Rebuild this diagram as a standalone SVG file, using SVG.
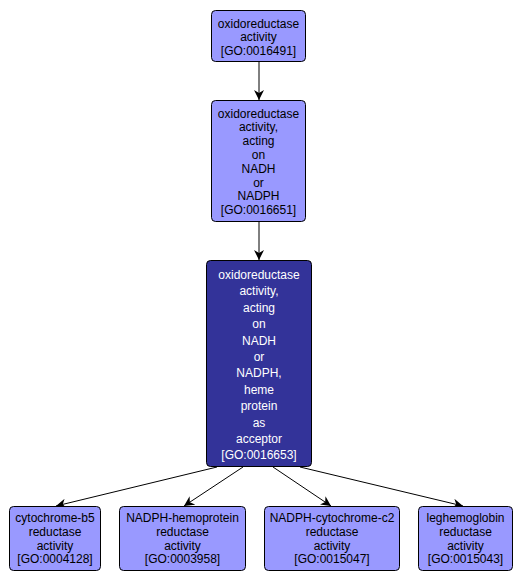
<svg xmlns="http://www.w3.org/2000/svg" width="522" height="583" viewBox="0 0 522 583">
<style>
.n rect{fill:#9999ff;stroke:#000;stroke-width:1}
.d rect{fill:#333399;stroke:#000;stroke-width:1}
text{font-family:"Liberation Sans",Arial,sans-serif;font-size:12px;text-anchor:middle;fill:#000}
.d text{fill:#fff}
.e line{stroke:#000;stroke-width:1;marker-end:url(#a)}
</style>
<defs>
<marker id="a" viewBox="0 0 10 10" refX="10" refY="5" markerWidth="10" markerHeight="10" markerUnits="userSpaceOnUse" orient="auto">
<path d="M0,0 L10,5 L0,10 L3,5 Z" fill="#000"/>
</marker>
</defs>
<rect width="522" height="583" fill="#fff"/>
<g class="e">
<line x1="259" y1="61" x2="259" y2="100"/>
<line x1="259" y1="222" x2="259" y2="260"/>
<line x1="217" y1="467" x2="56" y2="506"/>
<line x1="243" y1="467" x2="184" y2="506"/>
<line x1="273" y1="467" x2="331" y2="506"/>
<line x1="300" y1="467" x2="463" y2="506"/>
</g>
<g id="GO0016491" class="n">
<rect x="211.5" y="10.5" width="94" height="51" rx="4"/>
<text x="258.5" y="27.5">oxidoreductase</text>
<text x="258.5" y="41">activity</text>
<text x="258.5" y="54.5">[GO:0016491]</text>
</g>
<g id="GO0016651" class="n">
<rect x="211.5" y="100.5" width="94" height="121" rx="4"/>
<text x="258.5" y="117.5">oxidoreductase</text>
<text x="258.5" y="131.3">activity,</text>
<text x="258.5" y="145.1">acting</text>
<text x="258.5" y="158.9">on</text>
<text x="258.5" y="172.7">NADH</text>
<text x="258.5" y="186.5">or</text>
<text x="258.5" y="200.3">NADPH</text>
<text x="258.5" y="214.1">[GO:0016651]</text>
</g>
<g id="GO0016653" class="d">
<rect x="206.5" y="260.5" width="105" height="206" rx="4"/>
<text x="259" y="279">oxidoreductase</text>
<text x="259" y="295.4">activity,</text>
<text x="259" y="311.8">acting</text>
<text x="259" y="328.2">on</text>
<text x="259" y="344.6">NADH</text>
<text x="259" y="361">or</text>
<text x="259" y="377.4">NADPH,</text>
<text x="259" y="393.8">heme</text>
<text x="259" y="410.2">protein</text>
<text x="259" y="426.6">as</text>
<text x="259" y="443">acceptor</text>
<text x="259" y="459.4">[GO:0016653]</text>
</g>
<g id="GO0004128" class="n">
<rect x="9.5" y="506.5" width="91" height="64" rx="4"/>
<text x="55" y="522">cytochrome-b5</text>
<text x="55" y="535.8">reductase</text>
<text x="55" y="549.6">activity</text>
<text x="55" y="563.4">[GO:0004128]</text>
</g>
<g id="GO0003958" class="n">
<rect x="119.5" y="506.5" width="126" height="64" rx="4"/>
<text x="182.5" y="522">NADPH-hemoprotein</text>
<text x="182.5" y="535.8">reductase</text>
<text x="182.5" y="549.6">activity</text>
<text x="182.5" y="563.4">[GO:0003958]</text>
</g>
<g id="GO0015047" class="n">
<rect x="264.5" y="506.5" width="135" height="64" rx="4"/>
<text x="332" y="522">NADPH-cytochrome-c2</text>
<text x="332" y="535.8">reductase</text>
<text x="332" y="549.6">activity</text>
<text x="332" y="563.4">[GO:0015047]</text>
</g>
<g id="GO0015043" class="n">
<rect x="418.5" y="506.5" width="94" height="64" rx="4"/>
<text x="465.5" y="522">leghemoglobin</text>
<text x="465.5" y="535.8">reductase</text>
<text x="465.5" y="549.6">activity</text>
<text x="465.5" y="563.4">[GO:0015043]</text>
</g>
</svg>
